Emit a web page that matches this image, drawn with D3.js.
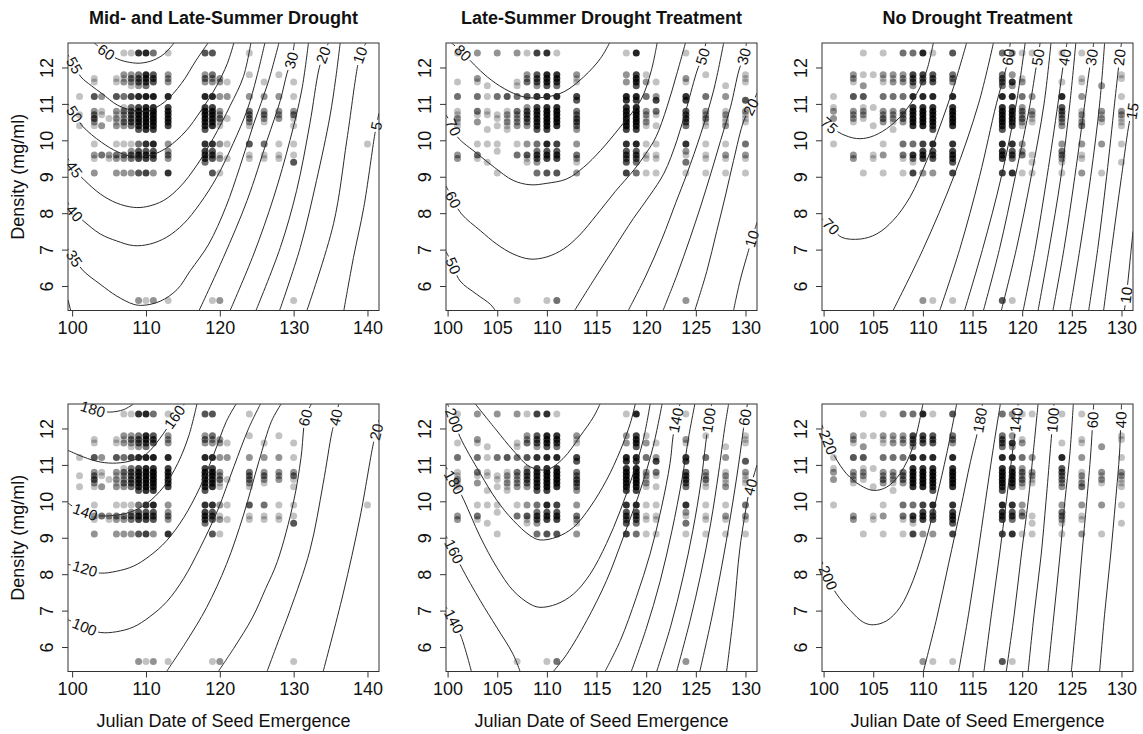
<!DOCTYPE html>
<html>
<head>
<meta charset="utf-8">
<script src="https://cdn.jsdelivr.net/npm/d3@7"></script>
<style>
  body { margin: 0; background: #fff; }
  text { font-family: Arial, "Liberation Sans", sans-serif; }
</style>
</head>
<body>
<svg id="chart" width="1143" height="734"></svg>
<script>
// ---- data ----
const titles = ["Mid- and Late-Summer Drought", "Late-Summer Drought Treatment", "No Drought Treatment"];
const yLabel = "Density (mg/ml)";
const xLabel = "Julian Date of Seed Emergence";
const xTicksWide = [100, 110, 120, 130, 140];
const xTicksNarrow = [100, 105, 110, 115, 120, 125, 130];
const yTicks = [6, 7, 8, 9, 10, 11, 12];
const xDomainWide = [99.44, 141.56];
const xDomainNarrow = [99.84, 131.16];
const yDomain = [5.328, 12.672];

// [julian day, density, number of overlapping seeds]
const pointsMid = [
  [101,11.2,1],[101,10.7,1],[101,10.4,1],
  [103,11.7,1],[103,11.6,1],[103,11.2,4],[103,10.8,2],[103,10.7,3],[103,10.6,4],[103,10.5,2],[103,10.4,1],[103,9.9,1],[103,9.6,2],[103,9.5,1],[103,9.1,2],
  [104,11.2,2],[104,10.8,1],[104,10.7,1],[104,10.4,2],[104,9.6,3],
  [105,10.6,1],[105,9.6,2],[105,9.5,1],
  [106,11.7,1],[106,11.6,1],[106,11.2,4],[106,10.8,2],[106,10.7,1],[106,10.6,2],[106,10.5,1],[106,10.4,2],[106,9.9,1],[106,9.6,3],[106,9.5,2],[106,9.1,2],
  [107,12.4,1],[107,11.8,2],[107,11.7,1],[107,11.6,2],[107,11.2,3],[107,10.9,1],[107,10.8,3],[107,10.7,2],[107,10.6,2],[107,10.5,3],[107,10.4,2],[107,9.9,1],[107,9.6,3],[107,9.5,2],[107,9.1,2],
  [108,12.4,1],[108,11.8,2],[108,11.7,3],[108,11.6,2],[108,11.5,1],[108,11.2,5],[108,10.9,3],[108,10.8,4],[108,10.7,4],[108,10.6,4],[108,10.5,4],[108,10.4,3],[108,9.9,1],[108,9.7,2],[108,9.6,4],[108,9.5,3],[108,9.1,2],
  [109,12.4,6],[109,11.8,3],[109,11.7,4],[109,11.6,4],[109,11.5,2],[109,11.2,7],[109,10.9,5],[109,10.8,7],[109,10.7,7],[109,10.6,7],[109,10.5,7],[109,10.4,6],[109,10.3,4],[109,9.9,3],[109,9.7,4],[109,9.6,6],[109,9.5,5],[109,9.1,4],[109,5.6,2],
  [110,12.4,7],[110,11.8,7],[110,11.7,6],[110,11.6,5],[110,11.5,3],[110,11.2,8],[110,10.9,7],[110,10.8,8],[110,10.7,8],[110,10.6,8],[110,10.5,8],[110,10.4,8],[110,10.3,6],[110,9.9,6],[110,9.7,4],[110,9.6,6],[110,9.5,5],[110,9.1,5],[110,5.6,1],
  [111,12.4,3],[111,11.8,4],[111,11.7,5],[111,11.6,4],[111,11.2,8],[111,10.9,6],[111,10.8,8],[111,10.7,8],[111,10.6,8],[111,10.5,8],[111,10.4,7],[111,10.3,5],[111,9.9,7],[111,9.7,4],[111,9.6,5],[111,9.5,4],[111,9.1,2],[111,5.6,2],
  [113,12.4,1],[113,11.8,2],[113,11.7,2],[113,11.6,2],[113,11.2,7],[113,10.9,5],[113,10.8,6],[113,10.7,6],[113,10.6,6],[113,10.5,6],[113,10.4,5],[113,9.9,2],[113,9.7,2],[113,9.6,3],[113,9.5,2],[113,9.1,6],[113,5.6,1],
  [118,12.4,4],[118,11.8,2],[118,11.7,3],[118,11.6,2],[118,11.2,7],[118,10.9,5],[118,10.8,7],[118,10.7,7],[118,10.6,7],[118,10.5,6],[118,10.4,6],[118,10.3,4],[118,9.9,6],[118,9.7,5],[118,9.6,6],[118,9.5,5],[118,9.4,3],
  [119,12.4,4],[119,11.8,3],[119,11.7,2],[119,11.6,2],[119,11.2,7],[119,10.9,5],[119,10.8,7],[119,10.7,7],[119,10.6,6],[119,10.5,6],[119,10.4,6],[119,9.9,6],[119,9.7,4],[119,9.6,5],[119,9.5,4],[119,9.1,4],[119,5.6,1],
  [120,11.7,2],[120,11.6,2],[120,11.2,2],[120,10.8,2],[120,10.7,2],[120,10.6,3],[120,10.5,1],[120,10.4,1],[120,9.9,2],[120,9.6,1],[120,9.5,2],[120,9.1,1],[120,5.6,2],
  [121,11.6,1],[121,11.2,2],[121,10.6,1],[121,9.9,1],[121,9.5,1],
  [124,12.4,1],[124,11.8,1],[124,11.2,2],[124,10.8,3],[124,10.7,3],[124,10.6,3],[124,10.5,2],[124,10.4,1],[124,9.9,4],[124,9.6,1],[124,9.5,1],
  [126,11.6,1],[126,11.2,2],[126,10.8,2],[126,10.7,3],[126,10.6,2],[126,10.5,1],[126,9.9,3],[126,9.6,1],[126,9.5,1],
  [128,11.8,1],[128,11.2,2],[128,10.8,2],[128,10.7,2],[128,10.6,2],[128,9.9,1],[128,9.6,1],[128,9.5,1],
  [130,11.6,1],[130,11.2,1],[130,10.8,2],[130,10.7,3],[130,10.6,1],[130,10.4,1],[130,9.9,1],[130,9.6,1],[130,9.4,4],[130,5.6,1],
  [140,9.9,1]
];

const pointsLate = [
  [101,12.4,1],[101,11.6,1],[101,11.2,3],[101,10.8,1],[101,10.7,1],[101,10.6,2],[101,10.5,1],[101,10.4,1],[101,9.6,2],[101,9.5,2],
  [103,12.4,2],[103,11.7,2],[103,11.6,1],[103,11.2,3],[103,10.8,3],[103,10.7,1],[103,10.5,2],[103,9.9,1],[103,9.6,3],[103,9.5,1],
  [104,11.5,1],[104,11.2,1],[104,10.8,1],[104,10.7,1],[104,10.3,1],[104,9.9,1],[104,9.4,1],
  [105,12.4,2],[105,11.2,3],[105,10.7,1],[105,10.6,1],[105,10.4,1],[105,9.9,1],[105,9.7,1],[105,9.1,1],
  [106,11.2,4],[106,10.8,1],[106,10.7,2],[106,10.6,1],[106,10.5,2],[106,10.4,1],[106,10.3,1],
  [107,12.4,2],[107,11.6,1],[107,11.5,1],[107,11.2,3],[107,10.8,3],[107,10.7,2],[107,10.6,2],[107,10.5,2],[107,10.4,2],[107,9.9,1],[107,9.6,3],[107,5.6,1],
  [108,12.4,1],[108,11.8,2],[108,11.7,2],[108,11.6,3],[108,11.2,4],[108,10.9,2],[108,10.8,4],[108,10.7,4],[108,10.6,4],[108,10.5,3],[108,10.4,2],[108,9.9,2],[108,9.6,4],[108,9.5,1],[108,9.4,1],
  [109,12.4,5],[109,11.8,4],[109,11.7,4],[109,11.6,4],[109,11.5,2],[109,11.2,6],[109,10.9,5],[109,10.8,6],[109,10.7,6],[109,10.6,6],[109,10.5,6],[109,10.4,6],[109,10.3,4],[109,9.9,3],[109,9.7,3],[109,9.6,5],[109,9.5,4],[109,9.4,2],[109,9.1,3],
  [110,12.4,6],[110,11.8,7],[110,11.7,6],[110,11.6,6],[110,11.5,4],[110,11.2,7],[110,10.9,6],[110,10.8,8],[110,10.7,8],[110,10.6,8],[110,10.5,8],[110,10.4,8],[110,10.3,5],[110,9.9,7],[110,9.7,4],[110,9.6,6],[110,9.5,5],[110,9.1,4],[110,5.6,1],
  [111,12.4,1],[111,11.8,6],[111,11.7,6],[111,11.6,5],[111,11.5,3],[111,11.2,7],[111,10.9,6],[111,10.8,8],[111,10.7,8],[111,10.6,8],[111,10.5,7],[111,10.4,6],[111,9.9,5],[111,9.7,4],[111,9.6,6],[111,9.5,5],[111,9.1,4],[111,5.6,3],
  [113,11.8,2],[113,11.7,1],[113,11.6,1],[113,11.2,5],[113,11.1,4],[113,10.8,3],[113,10.7,3],[113,10.6,4],[113,10.5,4],[113,10.4,3],[113,10.3,2],[113,9.9,2],[113,9.6,3],[113,9.5,2],[113,9.4,1],[113,9.1,2],
  [118,12.4,1],[118,11.8,2],[118,11.6,2],[118,11.2,7],[118,11.1,6],[118,10.9,6],[118,10.8,7],[118,10.7,7],[118,10.6,7],[118,10.5,7],[118,10.4,7],[118,10.3,5],[118,9.9,6],[118,9.7,4],[118,9.6,5],[118,9.5,4],[118,9.4,4],[118,9.1,5],
  [119,12.4,7],[119,11.8,5],[119,11.7,6],[119,11.6,6],[119,11.5,4],[119,11.2,7],[119,11.1,5],[119,10.9,7],[119,10.8,8],[119,10.7,8],[119,10.6,8],[119,10.5,8],[119,10.4,7],[119,10.3,5],[119,9.9,7],[119,9.7,4],[119,9.6,5],[119,9.5,4],[119,9.4,3],[119,9.1,3],
  [120,11.8,1],[120,11.6,2],[120,11.2,3],[120,10.8,2],[120,10.7,2],[120,10.6,1],[120,10.5,2],[120,10.4,1],[120,9.9,1],[120,9.6,1],[120,9.5,1],[120,9.1,1],
  [121,11.6,1],[121,11.2,2],[121,11.1,5],[121,10.8,3],[121,10.7,1],[121,10.4,1],[121,9.9,1],[121,9.6,1],[121,9.5,1],[121,9.1,1],
  [124,12.4,1],[124,11.7,2],[124,11.6,1],[124,11.2,6],[124,11.1,5],[124,10.8,4],[124,10.7,5],[124,10.6,5],[124,10.5,4],[124,10.4,3],[124,9.9,6],[124,9.7,2],[124,9.6,1],[124,9.4,3],[124,9.1,1],[124,5.6,2],
  [126,11.8,1],[126,11.2,3],[126,10.8,2],[126,10.7,2],[126,10.6,3],[126,10.5,1],[126,10.4,1],[126,9.9,1],[126,9.6,1],[126,9.5,1],[126,9.1,1],
  [128,11.5,1],[128,11.2,2],[128,10.8,1],[128,10.7,2],[128,10.6,1],[128,10.5,1],[128,10.4,2],[128,9.9,1],[128,9.6,2],[128,9.5,1],[128,9.1,1],
  [130,11.8,1],[130,11.7,1],[130,11.6,1],[130,11.1,4],[130,10.8,2],[130,10.7,1],[130,10.6,1],[130,10.5,1],[130,9.9,3],[130,9.6,2],[130,9.5,1],[130,9.1,1]
];

const pointsNone = [
  [101,11.2,1],[101,10.9,1],[101,10.8,2],[101,10.6,2],[101,9.9,1],
  [103,11.8,2],[103,11.7,2],[103,11.6,1],[103,11.2,4],[103,10.8,2],[103,10.7,2],[103,10.6,2],[103,10.5,1],[103,9.6,2],[103,9.5,2],
  [104,12.4,1],[104,11.8,1],[104,11.5,2],[104,11.2,4],[104,10.9,1],[104,10.8,2],[104,10.7,2],[104,10.6,1],[104,9.1,1],
  [105,11.8,1],[105,10.9,1],[105,10.4,1],[105,9.6,1],[105,9.5,1],
  [106,12.4,1],[106,11.8,2],[106,11.7,1],[106,11.6,1],[106,11.2,3],[106,10.8,2],[106,10.7,2],[106,10.6,3],[106,10.5,2],[106,9.9,1],[106,9.6,2],[106,9.1,1],
  [107,11.8,2],[107,11.7,1],[107,11.6,2],[107,11.2,3],[107,10.8,2],[107,10.7,2],[107,10.6,2],[107,10.5,1],[107,10.3,1],
  [108,12.4,3],[108,11.8,2],[108,11.7,2],[108,11.6,2],[108,11.2,3],[108,10.8,3],[108,10.7,3],[108,10.6,3],[108,10.5,2],[108,9.9,3],[108,9.6,3],[108,9.5,1],[108,9.1,1],
  [109,12.4,3],[109,11.8,5],[109,11.7,4],[109,11.6,4],[109,11.5,2],[109,11.2,7],[109,10.9,6],[109,10.8,7],[109,10.7,7],[109,10.6,7],[109,10.5,7],[109,10.4,6],[109,9.9,3],[109,9.6,6],[109,9.5,3],[109,9.4,1],[109,9.1,5],
  [110,12.4,7],[110,11.8,5],[110,11.7,4],[110,11.6,4],[110,11.2,7],[110,10.9,6],[110,10.8,8],[110,10.7,8],[110,10.6,8],[110,10.5,8],[110,10.4,7],[110,9.9,5],[110,9.7,5],[110,9.6,6],[110,9.5,5],[110,9.1,2],[110,5.6,2],
  [111,12.4,1],[111,11.8,4],[111,11.7,4],[111,11.6,4],[111,11.2,7],[111,10.9,6],[111,10.8,7],[111,10.7,7],[111,10.6,7],[111,10.5,7],[111,10.4,6],[111,10.3,4],[111,9.9,7],[111,9.7,4],[111,9.6,5],[111,9.5,4],[111,9.1,2],[111,5.6,1],
  [113,12.4,4],[113,11.8,3],[113,11.7,3],[113,11.6,2],[113,11.2,7],[113,10.9,6],[113,10.8,7],[113,10.7,7],[113,10.6,7],[113,10.5,7],[113,10.4,6],[113,9.9,6],[113,9.7,5],[113,9.6,6],[113,9.5,5],[113,9.4,4],[113,9.1,5],[113,5.6,1],
  [118,12.4,3],[118,11.8,3],[118,11.7,4],[118,11.6,4],[118,11.5,3],[118,11.2,7],[118,10.9,6],[118,10.8,7],[118,10.7,7],[118,10.6,7],[118,10.5,7],[118,10.4,6],[118,10.3,4],[118,9.9,7],[118,9.7,6],[118,9.6,6],[118,9.5,5],[118,9.1,5],[118,5.6,4],
  [119,12.4,2],[119,11.8,2],[119,11.6,6],[119,11.5,2],[119,11.2,7],[119,10.9,5],[119,10.8,7],[119,10.7,7],[119,10.6,7],[119,10.5,6],[119,10.4,5],[119,9.9,6],[119,9.7,4],[119,9.6,5],[119,9.5,3],[119,9.1,6],[119,5.6,1],
  [120,12.4,1],[120,11.7,1],[120,11.6,2],[120,11.2,3],[120,10.9,2],[120,10.8,3],[120,10.7,2],[120,10.6,3],[120,10.5,2],[120,10.4,1],[120,9.9,2],[120,9.7,2],[120,9.6,3],[120,9.1,1],
  [121,12.4,1],[121,11.2,2],[121,10.8,2],[121,10.7,2],[121,10.6,1],[121,10.5,1],[121,9.6,1],[121,9.4,1],[121,9.1,1],
  [124,12.4,1],[124,11.6,1],[124,11.2,7],[124,10.9,4],[124,10.8,4],[124,10.7,3],[124,10.6,3],[124,10.5,2],[124,10.4,2],[124,9.9,2],[124,9.7,3],[124,9.6,3],[124,9.5,2],[124,9.4,1],[124,9.1,1],
  [126,12.4,1],[126,11.7,1],[126,11.6,1],[126,11.2,2],[126,10.8,1],[126,10.7,2],[126,10.6,1],[126,10.5,2],[126,10.4,3],[126,9.9,2],[126,9.6,1],[126,9.5,1],[126,9.1,2],
  [128,11.5,2],[128,10.8,2],[128,10.7,1],[128,10.6,2],[128,10.5,1],[128,9.9,2],[128,9.1,1],
  [130,11.8,1],[130,11.7,1],[130,11.2,1],[130,10.8,2],[130,10.7,2],[130,10.6,1],[130,10.5,1],[130,10.4,1],[130,9.9,1],[130,9.4,1]
];

// contour lines: level, traced points [day, density], label spot (or null)
const contoursMidTop = [
  {level: 60, pts: [[103.0,12.67],[104.6,12.42],[106.2,12.23],[107.8,12.14],[109.3,12.12],[111.0,12.2],[112.5,12.38],[113.8,12.67]], label: [104.6,12.42]},
  {level: 55, pts: [[99.44,12.35],[100.3,12.05],[101.2,11.74],[102.6,11.5],[104.0,11.29],[106.2,10.96],[108.5,10.81],[110.3,10.81],[112.5,11.05],[114.8,11.56],[116.8,12.2],[118.4,12.67]], label: [100.3,12.05]},
  {level: 50, pts: [[99.44,11.0],[100.3,10.72],[101.5,10.37],[103.95,9.95],[106.2,9.68],[108.5,9.54],[110.7,9.59],[113.0,9.82],[115.3,10.23],[117.5,10.83],[119.5,11.47],[121.0,12.1],[121.9,12.67]], label: [100.3,10.72]},
  {level: 45, pts: [[99.44,9.5],[100.3,9.2],[101.7,8.9],[103.8,8.53],[106.0,8.28],[108.3,8.16],[110.1,8.18],[112.4,8.35],[114.6,8.72],[116.9,9.32],[119.1,10.05],[121.4,10.95],[123.2,11.75],[124.2,12.67]], label: [100.3,9.2]},
  {level: 40, pts: [[99.44,8.29],[100.3,8.0],[101.5,7.79],[103.8,7.43],[106.0,7.24],[108.3,7.11],[110.5,7.15],[112.8,7.34],[115.1,7.71],[117.3,8.26],[119.6,8.99],[121.8,9.91],[123.7,10.83],[125.0,11.74],[126.1,12.67]], label: [100.3,8.0]},
  {level: 35, pts: [[99.44,7.02],[100.3,6.75],[101.5,6.42],[103.8,6.05],[106.0,5.73],[108.3,5.5],[109.6,5.47],[111.9,5.58],[114.2,5.9],[116.0,6.42],[118.5,7.15],[120.8,8.16],[122.7,9.26],[124.6,10.46],[126.5,11.56],[128.0,12.67]], label: [100.3,6.75]},
  {level: 30, pts: [[99.44,5.62],[99.8,5.33]], label: null},
  {level: 30, pts: [[117.2,5.33],[120.5,6.79],[123.7,8.35],[126.4,10.0],[128.2,11.1],[129.1,11.84],[129.7,12.2],[130.1,12.67]], label: [129.7,12.2]},
  {level: 25, pts: [[121.4,5.33],[124.6,6.88],[127.3,8.44],[129.5,10.0],[131.1,11.38],[132.0,12.67]], label: null},
  {level: 20, pts: [[124.9,5.33],[128.2,7.06],[130.4,8.62],[132.2,10.46],[133.4,11.93],[134.0,12.34],[134.7,12.67]], label: [134.0,12.34]},
  {level: 15, pts: [[128.1,5.33],[130.9,7.06],[133.1,8.9],[134.9,10.64],[135.7,11.7],[136.3,12.67]], label: null},
  {level: 10, pts: [[131.8,5.33],[135.4,7.71],[137.2,10.0],[138.6,11.97],[139.0,12.34],[139.8,12.67]], label: [139.0,12.34]},
  {level: 5, pts: [[136.8,5.33],[138.1,6.78],[139.5,8.16],[140.9,10.05],[141.2,10.4],[141.56,10.75]], label: [141.2,10.4]}
];

const contoursMidBottom = [
  {level: 180, pts: [[101.1,12.67],[102.8,12.53],[105.1,12.45],[107.0,12.52],[108.3,12.67]], label: [102.8,12.53]},
  {level: 160, pts: [[99.44,11.4],[101.5,11.22],[103.8,11.08],[106.0,11.05],[108.3,11.13],[110.1,11.31],[111.9,11.73],[113.9,12.32],[115.2,12.67]], label: [113.9,12.32]},
  {level: 140, pts: [[99.44,9.95],[100.6,9.8],[101.8,9.7],[103.3,9.61],[105.6,9.61],[107.8,9.7],[110.1,9.94],[112.4,10.4],[114.3,11.04],[115.8,11.8],[116.9,12.67]], label: [101.8,9.72]},
  {level: 120, pts: [[99.44,8.27],[101.7,8.15],[103.8,8.03],[106.0,8.08],[108.3,8.22],[110.5,8.5],[112.8,8.92],[115.1,9.55],[117.3,10.38],[119.2,11.3],[120.9,12.2],[122.2,12.67]], label: [101.7,8.15]},
  {level: 100, pts: [[99.44,6.75],[101.7,6.55],[103.8,6.4],[106.0,6.42],[108.3,6.55],[110.5,6.83],[112.8,7.24],[115.1,7.88],[117.3,8.71],[119.7,9.75],[121.9,10.95],[123.9,12.0],[125.5,12.67]], label: [101.7,6.55]},
  {level: 80, pts: [[112.8,5.33],[115.5,6.16],[118.2,7.08],[120.9,8.27],[123.2,9.62],[125.3,11.1],[127.0,12.2],[128.3,12.67]], label: null},
  {level: 60, pts: [[119.8,5.33],[122.0,6.0],[124.4,6.8],[126.2,7.6],[127.8,8.35],[130.0,10.0],[131.0,11.2],[131.6,12.3],[132.4,12.67]], label: [131.6,12.3]},
  {level: 40, pts: [[126.4,5.33],[128.0,6.2],[129.5,7.0],[132.2,8.65],[134.0,10.49],[135.2,11.91],[135.7,12.3],[136.1,12.67]], label: [135.7,12.3]},
  {level: 20, pts: [[134.0,5.33],[136.7,7.46],[139.0,9.57],[140.8,11.59],[141.2,11.9],[141.56,12.23]], label: [141.2,11.9]}
];

const contoursLateTop = [
  {level: 80, pts: [[100.4,12.67],[101.55,12.4],[102.7,12.07],[104.0,11.74],[105.7,11.42],[107.7,11.19],[109.7,11.18],[111.7,11.33],[113.7,11.74],[115.4,12.25],[116.3,12.67]], label: [101.55,12.4]},
  {level: 70, pts: [[99.84,10.7],[100.55,10.36],[101.0,10.09],[103.0,9.63],[104.7,9.26],[106.6,8.9],[108.3,8.78],[110.0,8.82],[112.0,8.94],[113.7,9.26],[115.4,9.72],[117.4,10.37],[119.45,11.1],[120.5,11.9],[121.1,12.67]], label: [100.55,10.36]},
  {level: 60, pts: [[99.84,8.75],[100.55,8.37],[101.4,7.98],[103.3,7.52],[104.95,7.15],[106.6,6.88],[108.3,6.74],[110.0,6.8],[111.7,7.02],[113.3,7.4],[115.0,7.95],[116.9,8.6],[118.8,9.2],[120.0,9.65],[121.0,10.1],[122.1,10.92],[123.1,11.84],[123.95,12.67]], label: [100.55,8.37]},
  {level: 50, pts: [[99.84,6.95],[100.55,6.56],[101.25,6.14],[102.9,5.78],[104.3,5.5],[104.8,5.33]], label: [100.55,6.56]},
  {level: 50, pts: [[112.8,5.33],[114.8,6.2],[116.8,7.05],[118.7,7.85],[120.4,8.5],[121.8,9.1],[123.1,10.0],[124.1,10.92],[125.15,11.93],[125.7,12.3],[126.0,12.67]], label: [125.7,12.3]},
  {level: 40, pts: [[118.2,5.33],[120.0,6.3],[121.6,7.3],[123.0,8.3],[124.1,9.08],[125.5,10.18],[126.8,11.38],[127.8,12.67]], label: null},
  {level: 30, pts: [[121.7,5.33],[123.1,6.3],[124.4,7.3],[125.5,8.2],[126.5,9.08],[127.5,10.0],[128.5,10.92],[129.35,11.93],[129.85,12.31],[130.1,12.67]], label: [129.85,12.31]},
  {level: 20, pts: [[124.9,5.33],[126.1,6.4],[127.1,7.5],[128.0,8.5],[128.8,9.45],[129.85,10.55],[130.55,10.91],[131.16,11.3]], label: [130.55,10.91]},
  {level: 10, pts: [[128.8,5.33],[129.45,6.14],[130.3,6.97],[130.65,7.3],[131.16,7.75]], label: [130.65,7.3]}
];

const contoursLateBottom = [
  {level: 220, pts: [[102.8,12.67],[104.9,11.96],[106.6,11.4],[108.3,10.95],[110.0,10.87],[111.65,11.18],[113.3,11.77],[114.7,12.32],[115.35,12.67]], label: null},
  {level: 200, pts: [[100.0,12.67],[100.65,12.23],[101.25,11.77],[103.3,10.76],[104.95,10.03],[106.6,9.48],[108.3,9.06],[109.3,8.94],[111.0,9.02],[112.7,9.29],[114.35,9.84],[116.0,10.58],[117.4,11.4],[118.4,12.14],[118.9,12.67]], label: [100.65,12.23]},
  {level: 180, pts: [[99.84,10.95],[100.65,10.52],[101.4,10.17],[103.3,9.02],[104.95,8.19],[106.6,7.55],[108.3,7.18],[109.3,7.09],[111.0,7.18],[112.7,7.46],[114.35,8.0],[116.0,8.84],[117.4,9.75],[118.7,10.76],[119.7,11.68],[120.4,12.67]], label: [100.65,10.52]},
  {level: 160, pts: [[99.84,9.05],[100.65,8.62],[101.4,8.19],[103.3,7.27],[104.95,6.54],[106.6,5.8],[107.3,5.33]], label: [100.65,8.62]},
  {level: 160, pts: [[110.65,5.33],[112.0,5.8],[114.0,6.72],[116.0,7.82],[117.7,9.02],[119.4,10.3],[120.7,11.5],[121.6,12.67]], label: null},
  {level: 140, pts: [[99.84,7.1],[100.65,6.7],[101.4,6.26],[102.4,5.33]], label: [100.65,6.7]},
  {level: 140, pts: [[115.85,5.33],[117.4,6.18],[119.0,7.36],[120.4,8.56],[121.55,9.84],[122.4,11.04],[122.7,11.77],[123.0,12.23],[123.4,12.67]], label: [123.0,12.23]},
  {level: 120, pts: [[118.5,5.33],[120.0,6.5],[121.4,7.8],[122.6,9.2],[123.6,10.6],[124.3,11.8],[124.9,12.67]], label: null},
  {level: 100, pts: [[121.06,5.33],[122.5,6.6],[123.7,7.9],[124.7,9.2],[125.5,10.5],[126.0,11.6],[126.3,12.23],[126.6,12.67]], label: [126.3,12.23]},
  {level: 80, pts: [[123.07,5.33],[124.4,6.7],[125.5,8.0],[126.5,9.4],[127.3,10.8],[127.9,12.0],[128.3,12.67]], label: null},
  {level: 60, pts: [[125.4,5.33],[126.6,6.8],[127.6,8.2],[128.5,9.6],[129.3,11.0],[129.8,12.0],[129.95,12.3],[130.2,12.67]], label: [129.95,12.3]},
  {level: 40, pts: [[128.1,5.33],[128.8,6.9],[129.45,8.74],[130.3,10.17],[130.5,10.39],[131.16,11.0]], label: [130.5,10.39]}
];

const contoursNoneTop = [
  {level: 75, pts: [[99.84,10.62],[100.55,10.41],[101.8,10.18],[103.3,10.05],[104.7,10.09],[106.35,10.32],[108.0,10.73],[109.4,11.29],[110.4,11.93],[111.05,12.67]], label: [100.55,10.41]},
  {level: 70, pts: [[99.84,7.85],[100.75,7.63],[101.8,7.34],[103.7,7.29],[105.35,7.43],[107.0,7.8],[108.7,8.44],[110.4,9.45],[111.7,10.37],[113.1,11.47],[114.4,12.67]], label: [100.75,7.63]},
  {level: 65, pts: [[107.0,5.33],[110.0,7.0],[113.1,9.0],[115.6,11.0],[117.1,12.67]], label: null},
  {level: 60, pts: [[111.7,5.33],[113.7,7.0],[115.7,9.0],[117.4,11.0],[118.4,12.0],[118.6,12.28],[118.8,12.67]], label: [118.6,12.28]},
  {level: 55, pts: [[114.2,5.33],[116.0,7.0],[117.9,9.0],[119.4,11.0],[120.3,12.67]], label: null},
  {level: 50, pts: [[116.1,5.33],[117.7,7.0],[119.3,9.0],[120.8,11.0],[121.4,12.0],[121.6,12.28],[121.8,12.67]], label: [121.6,12.28]},
  {level: 45, pts: [[117.9,5.33],[119.4,7.0],[120.9,9.0],[122.2,11.0],[122.9,12.67]], label: null},
  {level: 40, pts: [[120.1,5.33],[121.3,7.0],[122.5,9.0],[123.6,11.0],[124.1,12.0],[124.3,12.28],[124.5,12.67]], label: [124.3,12.28]},
  {level: 35, pts: [[121.6,5.33],[122.7,7.0],[123.9,9.0],[124.8,11.0],[125.4,12.67]], label: null},
  {level: 30, pts: [[123.1,5.33],[124.2,7.0],[125.3,9.0],[126.3,11.0],[126.8,12.0],[127.0,12.28],[127.2,12.67]], label: [127.0,12.28]},
  {level: 25, pts: [[124.8,5.33],[125.8,7.0],[126.9,9.0],[127.8,11.0],[128.3,12.67]], label: null},
  {level: 20, pts: [[126.7,5.33],[127.6,7.0],[128.5,9.0],[129.3,11.0],[129.7,12.0],[129.8,12.28],[130.0,12.67]], label: [129.8,12.28]},
  {level: 15, pts: [[128.2,5.33],[129.0,7.0],[130.0,9.0],[130.8,10.5],[131.1,10.8],[131.16,11.1]], label: [131.1,10.8]},
  {level: 10, pts: [[130.3,5.33],[130.6,6.0],[130.9,6.8],[131.16,7.5]], label: [130.6,5.75]}
];

const contoursNoneBottom = [
  {level: 220, pts: [[99.84,12.1],[100.45,11.62],[101.15,11.22],[102.3,10.76],[103.7,10.44],[105.0,10.3],[106.35,10.39],[107.7,10.76],[109.0,11.5],[110.0,12.67]], label: [100.45,11.62]},
  {level: 200, pts: [[99.84,8.35],[100.45,7.9],[101.3,7.46],[102.7,7.0],[104.0,6.68],[105.0,6.61],[106.35,6.72],[107.7,7.09],[109.0,7.82],[110.4,9.02],[111.4,10.12],[112.4,11.31],[113.4,12.67]], label: [100.45,7.9]},
  {level: 180, pts: [[110.05,5.33],[111.4,6.8],[112.6,8.3],[113.8,9.8],[114.8,11.1],[115.5,11.9],[115.75,12.23],[116.0,12.67]], label: [115.75,12.23]},
  {level: 160, pts: [[113.6,5.33],[114.6,6.9],[115.5,8.5],[116.3,10.0],[117.0,11.3],[117.8,12.67]], label: null},
  {level: 140, pts: [[116.15,5.33],[116.9,6.9],[117.7,8.5],[118.4,10.0],[119.0,11.3],[119.3,11.95],[119.4,12.23],[119.6,12.67]], label: [119.4,12.23]},
  {level: 120, pts: [[118.4,5.33],[119.2,6.9],[119.9,8.5],[120.6,10.0],[121.1,11.3],[121.6,12.67]], label: null},
  {level: 100, pts: [[120.6,5.33],[121.2,6.9],[121.9,8.5],[122.4,10.0],[122.8,11.3],[123.0,11.95],[123.1,12.23],[123.2,12.67]], label: [123.1,12.23]},
  {level: 80, pts: [[122.6,5.33],[123.2,6.9],[123.8,8.5],[124.3,10.0],[124.8,11.3],[125.15,12.67]], label: null},
  {level: 60, pts: [[124.95,5.33],[125.5,6.9],[126.0,8.5],[126.5,10.0],[126.9,11.3],[127.05,11.95],[127.1,12.23],[127.2,12.67]], label: [127.1,12.23]},
  {level: 40, pts: [[127.8,5.33],[128.3,6.9],[128.9,8.5],[129.4,10.0],[129.8,11.3],[129.9,11.95],[129.95,12.23],[130.0,12.67]], label: [129.95,12.23]}
];

// ---- layout ----
const colLeft = [68, 446, 822];
const rowTop = [43, 404];
const pw = 311, ph = 267.5;
const dotR = 3.5;
const dotAlpha = 0.24;

const svg = d3.select("#chart");
svg.append("rect").attr("width", 1143).attr("height", 734).attr("fill", "#fff");

const panels = [
  {col: 0, row: 0, xd: xDomainWide, xt: xTicksWide, pts: pointsMid, cs: contoursMidTop},
  {col: 1, row: 0, xd: xDomainNarrow, xt: xTicksNarrow, pts: pointsLate, cs: contoursLateTop},
  {col: 2, row: 0, xd: xDomainNarrow, xt: xTicksNarrow, pts: pointsNone, cs: contoursNoneTop},
  {col: 0, row: 1, xd: xDomainWide, xt: xTicksWide, pts: pointsMid, cs: contoursMidBottom},
  {col: 1, row: 1, xd: xDomainNarrow, xt: xTicksNarrow, pts: pointsLate, cs: contoursLateBottom},
  {col: 2, row: 1, xd: xDomainNarrow, xt: xTicksNarrow, pts: pointsNone, cs: contoursNoneBottom}
];

panels.forEach((p, i) => {
  const left = colLeft[p.col], top = rowTop[p.row];
  const x = d3.scaleLinear().domain(p.xd).range([left, left + pw]);
  const y = d3.scaleLinear().domain(yDomain).range([top + ph, top]);

  const clipId = "clip" + i;
  svg.append("clipPath").attr("id", clipId)
     .append("rect").attr("x", left).attr("y", top).attr("width", pw).attr("height", ph);

  // seeds, darker where several overlap
  svg.append("g")
     .attr("clip-path", `url(#${clipId})`)
     .selectAll("circle")
     .data(p.pts)
     .enter()
     .append("circle")
     .attr("cx", d => x(d[0]))
     .attr("cy", d => y(d[1]))
     .attr("r", dotR)
     .attr("fill", "#000")
     .attr("fill-opacity", d => 1 - Math.pow(1 - dotAlpha, d[2]));

  // contour lines, broken where the label sits
  const line = d3.line().x(d => x(d[0])).y(d => y(d[1])).curve(d3.curveCatmullRom.alpha(0.5));
  const gc = svg.append("g").attr("clip-path", `url(#${clipId})`);
  const gl = svg.append("g");
  p.cs.forEach(c => {
    const path = gc.append("path")
       .attr("d", line(c.pts))
       .attr("fill", "none")
       .attr("stroke", "#2a2a2a")
       .attr("stroke-width", 1);
    if (!c.label) return;
    const node = path.node();
    const L = node.getTotalLength();
    const lx = x(c.label[0]), ly = y(c.label[1]);
    let best = 0, bestD = Infinity;
    for (let l = 0; l <= L; l += 0.5) {
      const q = node.getPointAtLength(l);
      const dd = (q.x - lx) ** 2 + (q.y - ly) ** 2;
      if (dd < bestD) { bestD = dd; best = l; }
    }
    const q0 = node.getPointAtLength(Math.max(0, best - 3));
    const q1 = node.getPointAtLength(Math.min(L, best + 3));
    let ang = Math.atan2(q1.y - q0.y, q1.x - q0.x) * 180 / Math.PI;
    if (ang > 90) ang -= 180;
    if (ang <= -90) ang += 180;
    const qc = node.getPointAtLength(best);
    const t = gl.append("text")
       .attr("transform", `translate(${qc.x},${qc.y}) rotate(${ang})`)
       .attr("text-anchor", "middle")
       .attr("dy", "0.35em")
       .attr("font-size", 15)
       .attr("fill", "#111")
       .text(c.level);
    const w = t.node().getComputedTextLength() + 4;
    const a = Math.max(0, best - w / 2), b = Math.min(L, best + w / 2);
    path.attr("stroke-dasharray", `${a} ${b - a} ${L + 10}`);
  });

  // box
  svg.append("rect")
     .attr("x", left).attr("y", top).attr("width", pw).attr("height", ph)
     .attr("fill", "none").attr("stroke", "#333").attr("stroke-width", 1);

  // x axis
  const xa = svg.append("g").attr("transform", `translate(0,${top + ph})`)
     .call(d3.axisBottom(x).tickValues(p.xt).tickSize(6).tickPadding(5).tickFormat(d3.format("d")));
  xa.select(".domain").remove();
  xa.selectAll("line").attr("stroke", "#333");
  xa.selectAll("text").attr("font-size", 18).attr("fill", "#111").attr("font-family", "Arial, 'Liberation Sans', sans-serif");

  // y axis, labels parallel to the axis
  const ya = svg.append("g").attr("transform", `translate(${left},0)`)
     .call(d3.axisLeft(y).tickValues(yTicks).tickSize(6).tickFormat(d3.format("d")));
  ya.select(".domain").remove();
  ya.selectAll("line").attr("stroke", "#333");
  ya.selectAll("text")
     .attr("font-size", 18).attr("fill", "#111").attr("font-family", "Arial, 'Liberation Sans', sans-serif")
     .attr("text-anchor", "middle").attr("x", 0).attr("dy", 0)
     .attr("transform", "translate(-15,0) rotate(-90)");

  if (p.row === 0) {
    svg.append("text")
       .attr("x", left + pw / 2).attr("y", 24)
       .attr("text-anchor", "middle").attr("font-size", 18).attr("font-weight", "bold").attr("fill", "#111")
       .text(titles[p.col]);
  }
  if (p.col === 0) {
    svg.append("text")
       .attr("transform", `translate(24,${top + ph / 2}) rotate(-90)`)
       .attr("text-anchor", "middle").attr("font-size", 18).attr("fill", "#111")
       .text(yLabel);
  }
  if (p.row === 1) {
    svg.append("text")
       .attr("x", left + pw / 2).attr("y", 727)
       .attr("text-anchor", "middle").attr("font-size", 18).attr("fill", "#111")
       .text(xLabel);
  }
});
</script>
</body>
</html>
